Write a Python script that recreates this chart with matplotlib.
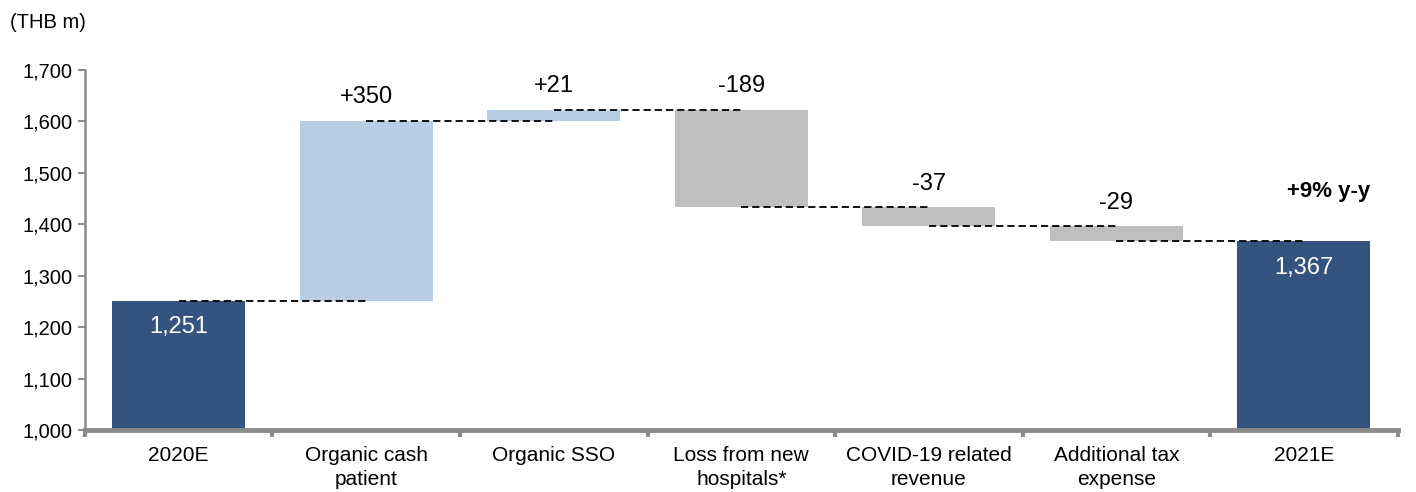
import numpy as np
import matplotlib.pyplot as plt
from matplotlib.ticker import FuncFormatter, FixedLocator

plt.rcParams['font.family'] = ['Liberation Sans', 'DejaVu Sans']

# Data
categories = ["2020E", "Organic cash\npatient", "Organic SSO", "Loss from new\nhospitals*",
              "COVID-19 related\nrevenue", "Additional tax\nexpense", "2021E"]
start_value = 1251
changes = [350, 21, -189, -37, -29]
end_value = 1367
growth_label = "+9% y-y"

dark_blue = "#34547f"
light_blue = "#b8cce4"
grey = "#bfbfbf"
axis_grey = "#8c8c8c"

# Build waterfall pieces
n = len(categories)
x = np.arange(n)
levels = [start_value] + list(np.cumsum(changes) + start_value)
bottoms = [1000]
heights = [start_value - 1000]
colors = [dark_blue]
for i, c in enumerate(changes):
    prev = levels[i]
    bottoms.append(min(prev, prev + c))
    heights.append(abs(c))
    colors.append(light_blue if c > 0 else grey)
bottoms.append(1000)
heights.append(end_value - 1000)
colors.append(dark_blue)

fig = plt.figure(figsize=(14.16, 4.92), dpi=100)
ax = fig.add_axes([0.060, 0.126, 0.927, 0.732])

ax.bar(x, heights, bottom=bottoms, width=0.71, color=colors, zorder=2)

# Connector lines from bar centre to next bar centre
for i in range(n - 1):
    y = levels[i]
    ax.plot([x[i], x[i + 1]], [y, y], color="black", lw=1.3,
            linestyle=(0, (4, 2.2)), zorder=3)

# Delta labels
for i, c in enumerate(changes, start=1):
    top = bottoms[i] + heights[i]
    ax.annotate(f"{c:+d}", (x[i], top), xytext=(0, 9), textcoords="offset points",
                ha="center", va="bottom", fontsize=17)

# Total labels inside bars
for i, v in [(0, start_value), (n - 1, end_value)]:
    ax.annotate(f"{v:,}", (x[i], v), xytext=(0, -19), textcoords="offset points",
                ha="center", va="center", fontsize=17, color="white")

ax.text(n - 1 + 0.13, 1463, growth_label, ha="center", va="center",
        fontsize=16, fontweight="bold")

ax.set_xlim(-0.5, n - 0.5)
ax.set_ylim(1000, 1700)
ax.set_yticks(np.arange(1000, 1701, 100))
ax.yaxis.set_major_formatter(FuncFormatter(lambda v, p: f"{int(v):,}"))

ax.set_xticks(x)
ax.set_xticklabels(categories, fontsize=15, linespacing=1.35)
ax.xaxis.set_minor_locator(FixedLocator(np.arange(-0.5, n, 1.0)))
ax.tick_params(axis="x", which="major", length=0, pad=11.5)
ax.tick_params(axis="x", which="minor", length=5, width=3, color=axis_grey)
ax.tick_params(axis="y", length=5, width=1.5, color=axis_grey, labelsize=14.5, pad=4)

for s in ["top", "right"]:
    ax.spines[s].set_visible(False)
ax.spines["left"].set_color(axis_grey)
ax.spines["left"].set_linewidth(1.8)
ax.spines["bottom"].set_color(axis_grey)
ax.spines["bottom"].set_linewidth(3.5)
ax.spines["bottom"].set_zorder(4)

fig.text(0.007, 0.955, "(THB m)", ha="left", va="center", fontsize=14.5)

fig.savefig("out.png", dpi=100)
